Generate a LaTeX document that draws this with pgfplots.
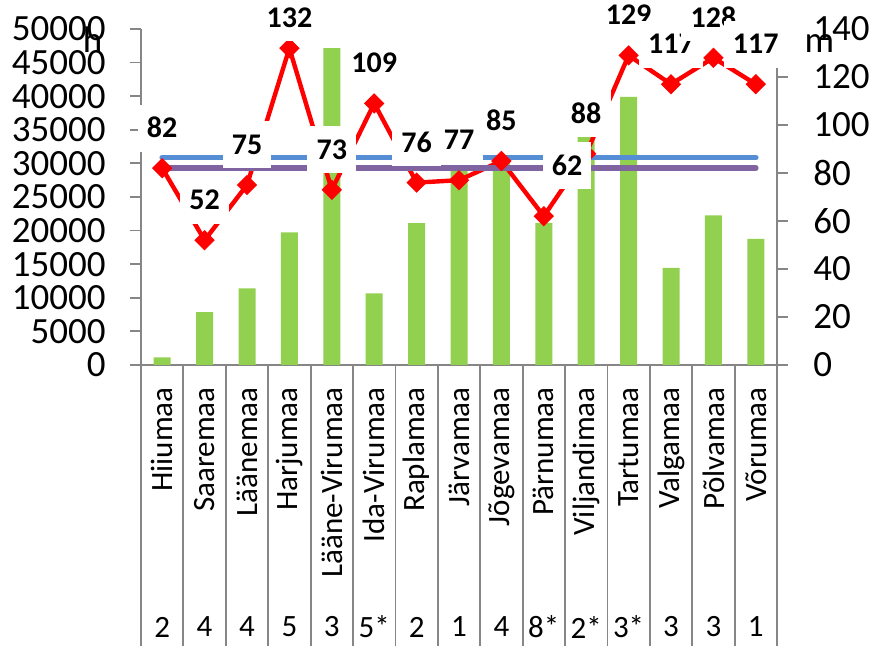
\documentclass[border=0pt]{standalone}
\usepackage{fontspec}
\setmainfont{Carlito}
\usepackage{pgfplots}
\pgfplotsset{compat=1.18}
\usepackage{pgfplotstable}

\definecolor{barg}{HTML}{92D050}
\definecolor{axgray}{HTML}{868686}
\definecolor{lblue}{HTML}{558ED5}
\definecolor{lpurp}{HTML}{8064A2}

\pgfplotstableread{
idx pop val
0 1150 82
1 7850 52
2 11400 75
3 19750 132
4 47150 73
5 10650 109
6 21100 76
7 29500 77
8 30500 85
9 21150 62
10 33900 88
11 39900 129
12 14450 117
13 22250 128
14 18750 117
}\datatab

\pgfplotstableread{
x blue purple
0 86.4 82.1
14 86.4 82.1
}\levels

\pgfplotsset{
  common/.style={
    scale only axis, width=318pt, height=168pt,
    at={(0,0)}, anchor=south west,
    xmin=-0.5, xmax=14.5,
    axis line style={axgray, line width=0.9pt},
    tick style={axgray, line width=0.9pt},
    tick align=outside,
    major tick length=5.5pt,
    /pgf/number format/assume math mode=true,
    ticklabel style={font=\fontsize{18.5}{20}\selectfont, text=black},
    scaled y ticks=false,
    yticklabel style={/pgf/number format/fixed, /pgf/number format/1000 sep={}},
  },
  lbl/.style={draw=none, mark=none,
    point meta=explicit symbolic,
    nodes near coords={\pgfplotspointmeta},
    every node near coord/.append style={anchor=center, fill=white, text=black,
      font=\bfseries\fontsize{15}{16}\selectfont, inner xsep=4.6pt, inner ysep=7pt,
      text height=9.5pt, text depth=0pt, #1}},
}

\begin{document}
\begin{tikzpicture}
\begin{axis}[common,
  ymin=0, ymax=50000, ytick={0,5000,...,50000},
  axis y line*=left, axis x line*=bottom,
  yticklabel style={inner sep=0pt, xshift=-12pt},
  xtick={0,...,14},
  xticklabels={Hiiumaa,Saaremaa,Läänemaa,Harjumaa,Lääne-Virumaa,Ida-Virumaa,Raplamaa,Järvamaa,Jõgevamaa,Pärnumaa,Viljandimaa,Tartumaa,Valgamaa,Põlvamaa,Võrumaa},
  xticklabel style={rotate=90, anchor=east, inner sep=0pt, font=\fontsize{15.5}{17}\selectfont},
  xticklabel shift=5.5pt,
  every major x tick/.append style={draw=none},
  minor xtick={-0.5,0.5,...,14.5},
  minor tick length=140.5pt,
  every minor x tick/.append style={axgray, line width=0.9pt},
]
\addplot[ybar, bar width=8.5pt, fill=barg, draw=none] table[x=idx, y=pop]{\datatab};
\end{axis}

\begin{axis}[common,
  ymin=0, ymax=140, ytick={0,20,...,140},
  axis y line*=right, axis x line=none,
  yticklabel style={inner sep=0pt, xshift=12.5pt},
]
\addplot[red, line width=2.2pt, mark=square*, mark size=3.3pt,
  mark options={solid, fill=red, draw=red, line width=0.6pt, rotate=45}]
  table[x=idx, y=val]{\datatab};
\addplot[lblue, line width=2.8pt, line cap=round] table[x=x, y=blue]{\levels};
\addplot[lpurp, line width=2.8pt, line cap=round] table[x=x, y=purple]{\levels};
\addplot[lbl={yshift=15.3pt}, x filter/.expression={x==3 ? x : nan}] table[x=idx, y=val, meta=val]{\datatab};
\addplot[lbl={xshift=11.6pt, yshift=25.1pt}, x filter/.expression={x==9 ? x : nan}] table[x=idx, y=val, meta=val]{\datatab};
\addplot[lbl={yshift=20pt}, x filter/.expression={(x==3 || x==9) ? nan : x}] table[x=idx, y=val, meta=val]{\datatab};
\end{axis}

\foreach \i/\t in {0/2,1/4,2/4,3/5,4/3,5/5*,6/2,7/1,8/4,9/8*,10/2*,11/3*,12/3,13/3,14/1}{
  \node[font=\fontsize{15.5}{17}\selectfont, anchor=center] at ({(\i+0.5)*21.2pt}, -131pt) {\t};
}
\node[anchor=base, font=\fontsize{18.5}{20}\selectfont] at (-24.25pt,156pt) {h};
\node[anchor=base, font=\fontsize{18.5}{20}\selectfont] at (339.25pt,156pt) {m};

\pgfresetboundingbox
\useasboundingbox (-70.5pt,-140.5pt) rectangle (365.5pt,182.5pt);
\end{tikzpicture}
\end{document}
